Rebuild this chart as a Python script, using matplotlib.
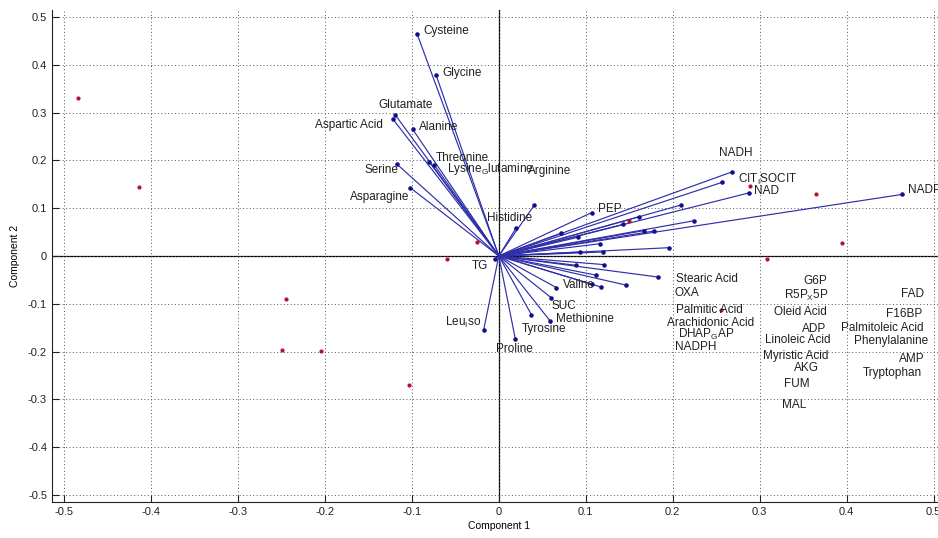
import matplotlib
matplotlib.use("Agg")
import matplotlib.pyplot as plt
import numpy as np

plt.rcParams['font.family'] = ['Liberation Sans', 'DejaVu Sans']
plt.rcParams['mathtext.default'] = 'regular'

# loading vectors (component 1, component 2)
load_pc1 = [-0.094, -0.072, -0.119, -0.122, -0.099, -0.080, -0.0745, -0.117, -0.102,
            0.041, 0.020, 0.268, 0.2565, 0.2875, 0.464, 0.107, 0.2094, 0.161, 0.1428,
            0.2247, 0.1787, 0.1665, 0.0718, 0.0906, 0.1167, 0.1956, 0.1198, 0.0929,
            0.1209, 0.0891, 0.1117, 0.183, 0.1458, 0.1175, 0.107, 0.066, 0.060,
            0.059, 0.0375, 0.019, -0.0175, -0.004]
load_pc2 = [0.465, 0.378, 0.295, 0.287, 0.265, 0.197, 0.191, 0.192, 0.143,
            0.107, 0.059, 0.176, 0.154, 0.132, 0.129, 0.091, 0.1067, 0.082, 0.0663,
            0.0739, 0.0523, 0.053, 0.048, 0.039, 0.0258, 0.0174, 0.0084, 0.0084,
            -0.018, -0.0195, -0.040, -0.044, -0.0607, -0.065, -0.059, -0.066, -0.087,
            -0.136, -0.123, -0.174, -0.155, -0.006]

# observation scores
score_pc1 = [-0.4845, -0.4144, -0.245, -0.249, -0.205, -0.103, -0.060, -0.0247,
             0.150, 0.289, 0.365, 0.395, 0.308, 0.256]
score_pc2 = [0.331, 0.144, -0.090, -0.197, -0.199, -0.270, -0.006, 0.029,
             0.073, 0.146, 0.130, 0.028, -0.0056, -0.113]

# variable names and where their labels sit
var_names = ['Cysteine', 'Glycine', 'Glutamate', 'Aspartic Acid', 'Alanine', 'Threonine',
             'Lysine$_G$lutamine', 'Serine', 'Asparagine', 'Arginine', 'Histidine', 'TG',
             'Valine', 'SUC', 'Methionine', 'Tyrosine', 'Proline', 'Leu$_I$so',
             'NADH', 'CIT$_I$SOCIT', 'NAD', 'NADP', 'PEP',
             'Stearic Acid', 'OXA', 'Palmitic Acid', 'Arachidonic Acid', 'DHAP$_G$AP', 'NADPH',
             'G6P', 'R5P$_X$5P', 'Oleid Acid', 'ADP', 'Linoleic Acid', 'Myristic Acid',
             'AKG', 'FUM', 'MAL', 'FAD', 'F16BP', 'Palmitoleic Acid', 'Phenylalanine',
             'AMP', 'Tryptophan']
label_x = [-0.087, -0.065, -0.139, -0.212, -0.092, -0.072,
           -0.060, -0.155, -0.171, 0.0339, -0.0136, -0.0308,
           0.0738, 0.0611, 0.0661, 0.0259, -0.0032, -0.0618,
           0.2538, 0.275, 0.294, 0.471, 0.1136,
           0.2037, 0.2021, 0.204, 0.1933, 0.206, 0.2021,
           0.3503, 0.3285, 0.3163, 0.349, 0.3063, 0.3037,
           0.340, 0.3285, 0.3255, 0.4626, 0.4454, 0.3937, 0.4083,
           0.4603, 0.4186]
label_y = [0.471, 0.3835, 0.317, 0.275, 0.270, 0.205,
           0.1814, 0.180, 0.124, 0.178, 0.0801, -0.021,
           -0.0613, -0.1046, -0.1318, -0.152, -0.195, -0.140,
           0.2148, 0.1604, 0.1367, 0.1374, 0.0977,
           -0.0474, -0.078, -0.1123, -0.140, -0.1639, -0.191,
           -0.053, -0.083, -0.117, -0.1527, -0.1757, -0.2085,
           -0.235, -0.2684, -0.311, -0.080, -0.1207, -0.1513, -0.1778,
           -0.2148, -0.2454]

ticks = np.round(np.arange(-0.5, 0.51, 0.1), 1)
tick_labels = ['-0.5', '-0.4', '-0.3', '-0.2', '-0.1', '0', '0.1', '0.2', '0.3', '0.4', '0.5']

fig = plt.figure(figsize=(9.38, 5.38), dpi=100)
ax = fig.add_axes([0.0554, 0.0669, 0.9528, 0.9145])
ax.set_xlim(-0.514, 0.514)
ax.set_ylim(-0.515, 0.515)

# grid and zero axes
ax.grid(True, linestyle=(0, (1, 2.5)), color='#555555', linewidth=0.7)
ax.axhline(0, color='black', linewidth=0.9, zorder=1)
ax.axvline(0, color='black', linewidth=0.9, zorder=1)

# loading vectors from the origin
for x, y in zip(load_pc1, load_pc2):
    ax.plot([0, x], [0, y], color='#2f2fa8', linewidth=0.85, zorder=2)
ax.plot(load_pc1, load_pc2, linestyle='none', marker='.', markersize=4.5,
        color='#10108a', zorder=3)

# observations
ax.plot(score_pc1, score_pc2, linestyle='none', marker='.', markersize=4,
        color='#b8102a', zorder=3)

for name, x, y in zip(var_names, label_x, label_y):
    ax.text(x, y, name, fontsize=8.5, ha='left', va='center', color='#202020',
            clip_on=False, zorder=4)

ax.set_xticks(ticks)
ax.set_xticklabels(tick_labels)
ax.set_yticks(ticks)
ax.set_yticklabels(tick_labels)
ax.tick_params(direction='in', length=5, labelsize=8, colors='#222222')
ax.spines['top'].set_visible(False)
ax.spines['right'].set_visible(False)
ax.spines['left'].set_color('#222222')
ax.spines['bottom'].set_color('#222222')
ax.set_xlabel('Component 1', fontsize=7.5, labelpad=3)
ax.set_ylabel('Component 2', fontsize=7.5, labelpad=6)

fig.savefig('out.png', dpi=100)
